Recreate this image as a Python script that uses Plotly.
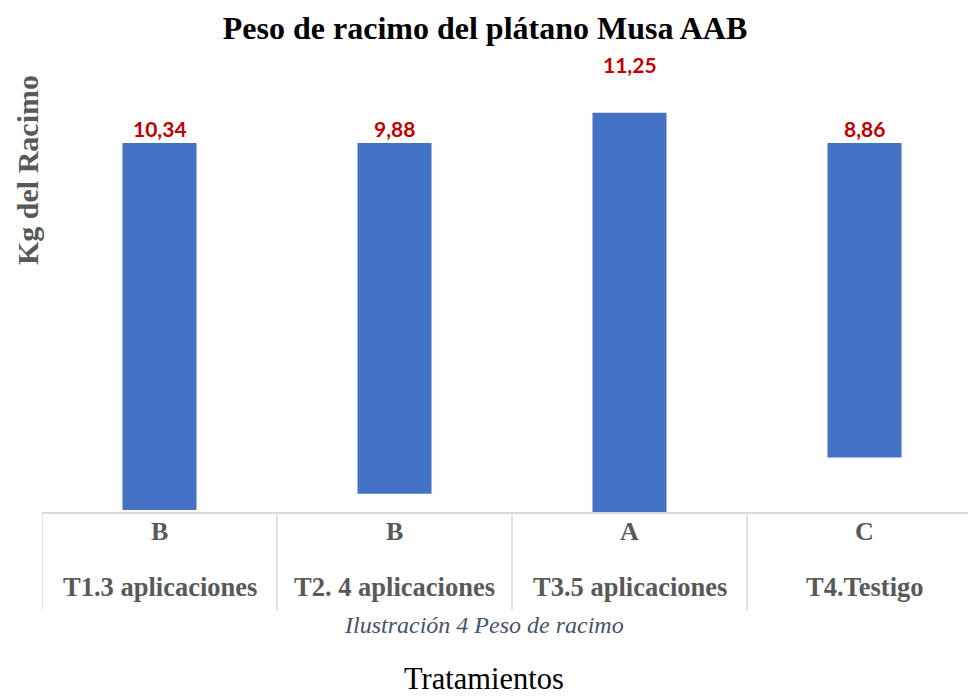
import plotly.graph_objects as go

# ---- data ----
categories = ["T1.3 aplicaciones", "T2. 4 aplicaciones", "T3.5 aplicaciones", "T4.Testigo"]
values = [10.34, 9.88, 11.25, 8.86]
groups = ["B", "B", "A", "C"]
value_labels = ["10,34", "9,88", "11,25", "8,86"]
bar_start = [0, 0, -0.85, 0]      # axis value where each (floating) bar begins
label_at = [0, 0, -1.8, 0]        # axis value where each data label sits

# ---- layout constants ----
W, H = 968, 697
ML, MT, MB = 42, 60, 185
PLOT_W = W - ML
PLOT_H = H - MT - MB
SERIF = "Liberation Serif, Times New Roman, serif"
GRID = "#D9D9D9"
GREY = "#595959"

fig = go.Figure()
fig.add_trace(go.Bar(
    x=categories,
    y=[v - s for v, s in zip(values, bar_start)],
    base=bar_start,
    width=0.315,
    marker=dict(color="#4472C4", line=dict(width=0)),
    hoverinfo="skip",
))

annotations = []
# data labels
for c, lab, ly in zip(categories, value_labels, label_at):
    annotations.append(dict(x=c, y=ly, xref="x", yref="y", text=f"<b>{lab}</b>",
                            showarrow=False, yanchor="bottom", yshift=0,
                            font=dict(family="Lato, Open Sans, sans-serif", size=21, color="#C00000")))
# table-like category rows
for c, g in zip(categories, groups):
    annotations.append(dict(x=c, y=0, xref="x", yref="paper", text=f"<b>{g}</b>",
                            showarrow=False, yanchor="middle", yshift=-19,
                            font=dict(family=SERIF, size=26, color=GREY)))
    annotations.append(dict(x=c, y=0, xref="x", yref="paper", text=f"<b>{c}</b>",
                            showarrow=False, yanchor="middle", yshift=-75,
                            font=dict(family=SERIF, size=26.5, color=GREY)))
# caption
annotations.append(dict(x=(484 - ML) / PLOT_W, y=0, xref="paper", yref="paper",
                        text="<i>Ilustración 4 Peso de racimo</i>", showarrow=False,
                        yanchor="middle", yshift=-113,
                        font=dict(family=SERIF, size=24, color="#44546A")))
# x axis title
annotations.append(dict(x=(484 - ML) / PLOT_W, y=0, xref="paper", yref="paper",
                        text="Tratamientos", showarrow=False,
                        yanchor="middle", yshift=-167,
                        font=dict(family=SERIF, size=30.5, color="black")))
# y axis title
annotations.append(dict(x=(27 - ML) / PLOT_W, y=(H - MB - 170) / PLOT_H, xref="paper", yref="paper",
                        text="<b>Kg del Racimo</b>", showarrow=False, textangle=-90,
                        xanchor="center", yanchor="middle",
                        font=dict(family=SERIF, size=30, color=GREY)))

# vertical dividers of the category table
shapes = []
for xpos in [-0.5, 0.5, 1.5, 2.5]:
    shapes.append(dict(type="line", xref="x", yref="paper", x0=xpos, x1=xpos,
                       y0=0, y1=-(610 - (H - MB)) / PLOT_H,
                       line=dict(color=GRID, width=1.5)))

fig.update_layout(
    width=W, height=H, autosize=False,
    margin=dict(l=ML, r=0, t=MT, b=MB, pad=0),
    paper_bgcolor="white", plot_bgcolor="white",
    showlegend=False,
    title=dict(text="<b>Peso de racimo del plátano Musa AAB</b>", x=485 / W, xref="container",
               xanchor="center", y=1 - 28 / H, yref="container", yanchor="middle",
               font=dict(family=SERIF, size=32, color="black")),
    xaxis=dict(type="category", range=[-0.5, -0.5 + PLOT_W / 235], showticklabels=False,
               showgrid=False, zeroline=False, showline=True, linecolor=GRID, linewidth=1.5,
               ticks=""),
    yaxis=dict(range=[(H - MB - 143) / 35.5, (MT - 143) / 35.5], visible=False,
               showgrid=False, zeroline=False),
    annotations=annotations,
    shapes=shapes,
)

fig.write_html("out.html")
